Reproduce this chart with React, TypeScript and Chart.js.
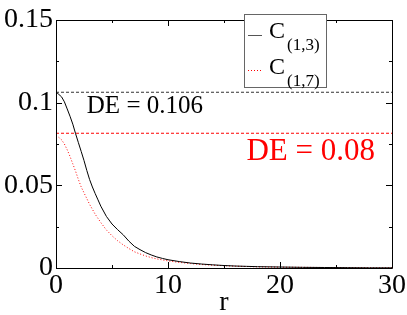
import React, { useEffect, useRef } from "react";
import { Chart, registerables } from "chart.js";

Chart.register(...registerables);

// ---- data ----
const rValues = [
  0, 0.25, 0.5, 0.75, 1, 1.25, 1.5, 1.75, 2, 2.25, 2.5, 2.75, 3, 3.25, 3.5, 3.75, 4, 4.5, 5, 5.5, 6, 6.5, 7, 7.5, 8, 8.5,
  9, 9.5, 10, 11, 12, 13, 14, 15, 16, 17, 18, 19, 20, 22, 24, 26, 28, 30,
];
const c13 = [
  0.1065, 0.105, 0.1035, 0.1005, 0.0962, 0.0918, 0.087, 0.0812, 0.0758, 0.0705, 0.065, 0.059, 0.0535, 0.049, 0.045,
  0.0412, 0.0374, 0.0312, 0.0266, 0.0232, 0.0201, 0.0163, 0.0131, 0.0111, 0.0093, 0.0079, 0.0067, 0.0058, 0.005, 0.0039,
  0.003, 0.0024, 0.0019, 0.0015, 0.0012, 0.001, 0.0008, 0.0007, 0.0006, 0.0004, 0.0003, 0.0002, 0.0001, 0.0001,
];
const c17 = [
  0.08, 0.079, 0.0775, 0.075, 0.0715, 0.0675, 0.063, 0.0585, 0.0535, 0.049, 0.0455, 0.042, 0.0385, 0.0355, 0.0325, 0.03,
  0.0275, 0.023, 0.0195, 0.0165, 0.014, 0.0118, 0.0098, 0.0085, 0.0073, 0.0063, 0.0055, 0.0049, 0.0043, 0.0034, 0.0027,
  0.0021, 0.0017, 0.0014, 0.0011, 0.0009, 0.0007, 0.0006, 0.0005, 0.0004, 0.0003, 0.0002, 0.0001, 0.0001,
];
const deLevels = [0.1063, 0.0815];
const deLabels = ["DE = 0.106", "DE = 0.08"];
const seriesNames = ["C", "C"];
const seriesSubs = ["(1,3)", "(1,7)"];
const xMin = 0;
const xMax = 30;
const yMin = 0;
const yMax = 0.15;
const xTickLabels = [0, 10, 20, 30];
const yTickLabels = ["0", "0.05", "0.1", "0.15"];
const axisTitle = "r";

const FONT = "Liberation Serif";

const framePlugin = {
  id: "frameTicks",
  afterDraw(chart: any) {
    const { ctx, chartArea: a, scales } = chart;
    const xs = scales.x;
    const ys = scales.y;
    ctx.save();
    ctx.strokeStyle = "#000";
    ctx.lineWidth = 1;
    ctx.beginPath();
    ctx.rect(Math.round(a.left) + 0.5, Math.round(a.top) + 0.5, Math.round(a.right - a.left), Math.round(a.bottom - a.top));
    ctx.stroke();
    ctx.beginPath();
    for (let v = xMin; v <= xMax; v += 5) {
      const px = Math.round(xs.getPixelForValue(v)) + 0.5;
      const len = v % 10 === 0 ? 6 : 3;
      ctx.moveTo(px, a.bottom);
      ctx.lineTo(px, a.bottom - len);
      ctx.moveTo(px, a.top);
      ctx.lineTo(px, a.top + len);
    }
    for (let i = 0; i <= 6; i++) {
      const v = i * 0.025;
      const py = Math.round(ys.getPixelForValue(v)) + 0.5;
      const len = i % 2 === 0 ? 6 : 3;
      ctx.moveTo(a.left, py);
      ctx.lineTo(a.left + len, py);
      ctx.moveTo(a.right, py);
      ctx.lineTo(a.right - len, py);
    }
    ctx.stroke();
    ctx.restore();
  },
};

const annotPlugin = {
  id: "annot",
  afterDraw(chart: any) {
    const { ctx, scales } = chart;
    const xs = scales.x;
    const ys = scales.y;
    ctx.save();
    ctx.textBaseline = "alphabetic";
    ctx.textAlign = "left";
    ctx.fillStyle = "#000";
    ctx.font = `25px ${FONT}`;
    ctx.fillText(deLabels[0], xs.getPixelForValue(2.75), ys.getPixelForValue(0.0938));
    ctx.fillStyle = "#ff0000";
    ctx.font = `31px ${FONT}`;
    ctx.fillText(deLabels[1], xs.getPixelForValue(17.0), ys.getPixelForValue(0.0653));

    // legend
    const bx = 244.5, by = 14.5, bw = 82, bh = 73;
    ctx.fillStyle = "#fff";
    ctx.fillRect(bx, by, bw, bh);
    ctx.strokeStyle = "#666";
    ctx.lineWidth = 1;
    ctx.strokeRect(bx, by, bw, bh);
    const rows = [
      { y: 35, color: "#555", dash: [] as number[] },
      { y: 70, color: "#ff0000", dash: [1, 2] },
    ];
    rows.forEach((r, i) => {
      ctx.beginPath();
      ctx.setLineDash(r.dash);
      ctx.strokeStyle = r.color;
      ctx.moveTo(248, r.y + 0.5);
      ctx.lineTo(262, r.y + 0.5);
      ctx.stroke();
      ctx.setLineDash([]);
      ctx.fillStyle = "#000";
      ctx.font = `24px ${FONT}`;
      ctx.fillText(seriesNames[i], 269, r.y + 3 + i * 1);
      ctx.font = `17px ${FONT}`;
      ctx.fillText(seriesSubs[i], 287, r.y + 15 + i * 1);
    });
    ctx.restore();
  },
};

export default function App() {
  const ref = useRef<HTMLCanvasElement | null>(null);
  useEffect(() => {
    document.body.style.margin = "0";
    const canvas = ref.current!;
    const chart = new Chart(canvas, {
      type: "line",
      data: {
        datasets: [
          {
            label: "C(1,3)",
            data: rValues.map((r, i) => ({ x: r, y: c13[i] })),
            borderColor: "#000",
            borderWidth: 1,
            pointRadius: 0,
            tension: 0,
          },
          {
            label: "C(1,7)",
            data: rValues.map((r, i) => ({ x: r, y: c17[i] })),
            borderColor: "#ff0000",
            borderWidth: 1,
            borderDash: [1, 2],
            pointRadius: 0,
            tension: 0,
          },
          {
            label: "DE13",
            data: [
              { x: xMin, y: deLevels[0] },
              { x: xMax, y: deLevels[0] },
            ],
            borderColor: "#333",
            borderWidth: 1,
            borderDash: [3, 2],
            pointRadius: 0,
          },
          {
            label: "DE17",
            data: [
              { x: xMin, y: deLevels[1] },
              { x: xMax, y: deLevels[1] },
            ],
            borderColor: "#ff0000",
            borderWidth: 1,
            borderDash: [3, 2],
            pointRadius: 0,
          },
        ],
      },
      options: {
        animation: false,
        responsive: false,
        maintainAspectRatio: false,
        font: { family: FONT },
        layout: { padding: { top: 20, right: 15, left: 0, bottom: -4 } },
        plugins: { legend: { display: false }, tooltip: { enabled: false } },
        scales: {
          x: {
            type: "linear",
            min: xMin,
            max: xMax,
            afterBuildTicks: (s: any) => {
              s.ticks = xTickLabels.map((v) => ({ value: v }));
            },
            ticks: {
              font: { family: FONT, size: 28 },
              color: "#000",
              padding: 1,
              maxRotation: 0,
              callback: (v: any) => String(v),
            },
            grid: { display: false, drawTicks: false },
            border: { display: false },
            title: {
              display: true,
              text: axisTitle,
              font: { family: FONT, size: 28 },
              color: "#000",
              padding: 0,
            },
            afterFit: (s: any) => {
              s.height = 51;
            },
          },
          y: {
            type: "linear",
            min: yMin,
            max: yMax,
            afterBuildTicks: (s: any) => {
              s.ticks = yTickLabels.map((t) => ({ value: parseFloat(t) }));
            },
            ticks: {
              font: { family: FONT, size: 28 },
              color: "#000",
              padding: 3,
              callback: (v: any, i: number) => yTickLabels[i],
            },
            grid: { display: false, drawTicks: false },
            border: { display: false },
            afterFit: (s: any) => {
              s.width = 56;
            },
          },
        },
      },
      plugins: [framePlugin, annotPlugin],
    });
    return () => chart.destroy();
  }, []);
  return (
    <div style={{ position: "absolute", left: 0, top: 0, width: 407, height: 315, background: "#fff" }}>
      <canvas ref={ref} width={407} height={315} style={{ width: 407, height: 315 }} />
    </div>
  );
}
